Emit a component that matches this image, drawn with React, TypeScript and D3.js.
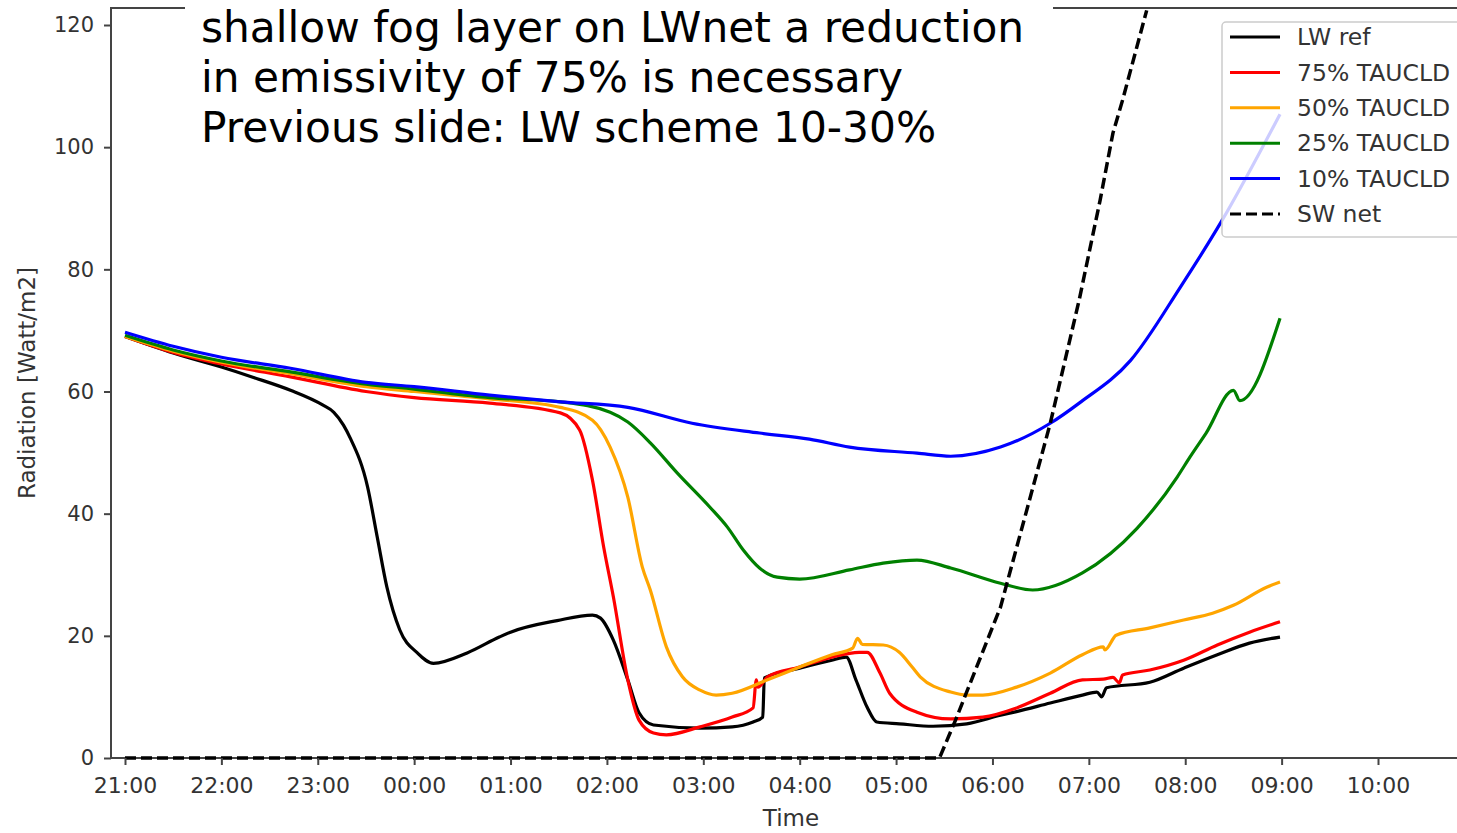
import React, { useRef, useEffect } from 'react';
import * as d3 from 'd3';

// values (Radiation, Watt/m2)
const lwRefTimes = ['21:00', '21:30', '22:00', '22:20', '22:43', '23:03', '23:10', '23:16', '23:20', '23:31', '23:37', '23:43', '23:51', '00:02', '00:12', '00:33', '00:53', '01:00', '01:29', '01:51', '01:56', '02:04', '02:13', '02:20', '02:29', '02:58', '03:18', '03:31', '03:37', '03:38', '04:00', '04:20', '04:29', '04:35', '04:42', '04:48', '05:02', '05:23', '05:44', '06:05', '06:15', '06:36', '06:56', '07:05', '07:08', '07:11', '07:38', '07:59', '08:20', '08:40', '08:59'];
const lwRefValues = [69.0, 66.3, 64.0, 62.3, 60.2, 57.8, 56.6, 54.5, 52.5, 44.4, 36.2, 28.0, 21.0, 17.2, 15.5, 17.2, 19.8, 20.6, 22.5, 23.4, 22.9, 19.3, 12.8, 7.4, 5.4, 4.9, 5.1, 5.9, 6.7, 13.1, 14.7, 16.0, 16.5, 12.8, 8.3, 5.9, 5.6, 5.2, 5.6, 7.0, 7.6, 9.0, 10.3, 10.8, 10.0, 11.5, 12.4, 14.7, 16.9, 18.8, 19.8];

const tau75Times = ['21:00', '21:30', '22:00', '22:43', '23:30', '00:00', '00:47', '01:31', '01:43', '01:51', '01:58', '02:04', '02:13', '02:20', '02:29', '02:37', '02:58', '03:18', '03:31', '03:33', '03:34', '03:40', '04:00', '04:20', '04:37', '04:42', '04:50', '04:56', '05:13', '05:34', '05:54', '06:15', '06:36', '06:56', '07:09', '07:15', '07:19', '07:21', '07:38', '07:59', '08:20', '08:40', '08:59'];
const tau75Values = [69.0, 66.4, 64.5, 62.4, 60.0, 59.0, 58.1, 56.5, 53.7, 45.5, 34.5, 26.4, 12.8, 6.2, 4.1, 3.8, 5.1, 6.7, 8.2, 12.8, 11.6, 13.3, 14.9, 16.5, 17.3, 17.3, 13.9, 10.6, 7.5, 6.4, 6.7, 8.2, 10.6, 12.8, 12.9, 13.2, 12.3, 13.6, 14.4, 16.0, 18.5, 20.6, 22.3];

const tau50Times = ['21:00', '21:30', '22:00', '22:43', '23:30', '00:00', '00:47', '01:31', '01:51', '02:02', '02:13', '02:22', '02:27', '02:37', '02:47', '02:58', '03:08', '03:18', '03:40', '04:00', '04:20', '04:33', '04:36', '04:39', '04:52', '05:02', '05:10', '05:15', '05:34', '05:44', '05:54', '06:15', '06:36', '06:56', '07:09', '07:10', '07:17', '07:38', '07:59', '08:17', '08:30', '08:51', '08:59'];
const tau50Values = [69.0, 66.6, 64.8, 62.9, 60.8, 60.0, 58.8, 57.4, 55.3, 50.9, 42.7, 31.3, 27.5, 18.2, 13.3, 11.1, 10.3, 10.6, 12.8, 14.9, 16.9, 18.0, 19.6, 18.6, 18.5, 17.3, 14.9, 13.3, 10.8, 10.3, 10.3, 11.6, 13.9, 16.9, 18.2, 17.7, 20.1, 21.3, 22.6, 23.7, 25.0, 28.0, 28.8];

const tau25Times = ['21:00', '21:30', '22:00', '22:43', '23:30', '00:00', '00:47', '01:31', '02:02', '02:13', '02:27', '02:44', '03:04', '03:15', '03:25', '03:35', '03:46', '04:00', '04:31', '04:52', '05:13', '05:34', '06:05', '06:25', '06:56', '07:30', '07:55', '08:03', '08:13', '08:30', '08:34', '08:59'];
const tau25Values = [69.2, 66.8, 65.0, 63.2, 61.2, 60.4, 59.0, 58.3, 56.6, 55.0, 51.6, 46.6, 41.1, 37.8, 34.0, 31.1, 29.6, 29.3, 30.8, 31.9, 32.4, 31.1, 28.6, 27.5, 30.3, 37.6, 46.0, 49.3, 53.2, 60.2, 58.5, 72.0];

const tau10Times = ['21:00', '21:30', '22:00', '22:43', '23:30', '00:00', '00:47', '01:31', '02:13', '02:53', '03:35', '04:06', '04:31', '05:13', '05:34', '06:05', '06:36', '06:54', '07:26', '07:57', '08:22', '08:59'];
const tau10Values = [69.7, 67.4, 65.6, 63.8, 61.5, 60.8, 59.4, 58.3, 57.4, 54.8, 53.2, 52.2, 50.9, 49.9, 49.4, 50.9, 54.8, 58.1, 65.1, 77.1, 87.6, 105.4];

const swNetTimes = ['21:00', '05:27', '05:37', '06:05', '06:36', '06:54', '07:07', '07:15', '07:21', '07:36'];
const swNetValues = [0, 0, 6.2, 24.7, 54.8, 75.0, 91.3, 102.3, 107.7, 122.4];

const seriesNames = ['LW ref', '75% TAUCLD', '50% TAUCLD', '25% TAUCLD', '10% TAUCLD', 'SW net'];
const seriesColors = ['#000000', '#ff0000', '#ffa500', '#008000', '#0000ff', '#000000'];

const yTicks = [0, 20, 40, 60, 80, 100, 120];
const noteLines = [
  'shallow fog layer on LWnet a reduction',
  'in emissivity of 75% is necessary',
  'Previous slide: LW scheme 10-30%',
];

// clock string -> Date, hours before 21 belong to the next day
const toDate = (s) => {
  const [h, m] = s.split(':').map(Number);
  return new Date(2020, 0, h >= 21 ? 1 : 2, h, m);
};

const App = () => {
  const chartRef = useRef();

  useEffect(() => {
    const W = 1457, H = 833;
    const left = 111, top = 8, bottom = 758, right = 1470;
    const spine = '#444';

    const svg = d3.select(chartRef.current)
      .attr('width', W)
      .attr('height', H)
      .html('');

    const x = d3.scaleTime()
      .domain([toDate('21:00'), toDate('10:00')])
      .range([125, 1378]);

    const y = d3.scaleLinear()
      .domain([0, 120])
      .range([bottom, 25]);

    svg.append('defs').append('clipPath').attr('id', 'plot-clip')
      .append('rect')
      .attr('x', left).attr('y', top)
      .attr('width', right - left).attr('height', bottom - top + 3);

    // spines first, the zero dashes of SW net sit on top of the bottom one
    svg.append('line').attr('x1', left).attr('x2', left).attr('y1', top).attr('y2', bottom)
      .attr('stroke', spine).attr('stroke-width', 2);
    svg.append('line').attr('x1', left - 1).attr('x2', W).attr('y1', bottom).attr('y2', bottom)
      .attr('stroke', spine).attr('stroke-width', 2);
    svg.append('line').attr('x1', left - 1).attr('x2', W).attr('y1', top).attr('y2', top)
      .attr('stroke', spine).attr('stroke-width', 2);

    const data = [
      [lwRefTimes, lwRefValues],
      [tau75Times, tau75Values],
      [tau50Times, tau50Values],
      [tau25Times, tau25Values],
      [tau10Times, tau10Values],
    ];

    const line = d3.line()
      .x(d => x(d.t))
      .y(d => y(d.v))
      .curve(d3.curveMonotoneX);

    const plot = svg.append('g').attr('clip-path', 'url(#plot-clip)');

    data.forEach(([times, values], i) => {
      const pts = times.map((t, j) => ({ t: toDate(t), v: values[j] }));
      plot.append('path')
        .datum(pts)
        .attr('d', line)
        .attr('fill', 'none')
        .attr('stroke', seriesColors[i])
        .attr('stroke-width', 3.2)
        .attr('stroke-linejoin', 'round');
    });

    const swPts = swNetTimes.map((t, j) => ({ t: toDate(t), v: swNetValues[j] }));
    plot.append('path')
      .datum(swPts)
      .attr('d', d3.line().x(d => x(d.t)).y(d => y(d.v)))
      .attr('fill', 'none')
      .attr('stroke', '#000')
      .attr('stroke-width', 3.5)
      .attr('stroke-dasharray', '11,5');

    // axes
    const xAxis = svg.append('g')
      .attr('transform', `translate(0,${bottom})`)
      .call(d3.axisBottom(x)
        .ticks(d3.timeHour.every(1))
        .tickFormat(d3.timeFormat('%H:%M'))
        .tickSize(7)
        .tickPadding(12));
    xAxis.select('.domain').remove();
    xAxis.selectAll('line').attr('stroke', spine).attr('stroke-width', 2);
    xAxis.selectAll('text')
      .attr('font-family', 'DejaVu Sans')
      .attr('font-size', 22)
      .attr('fill', '#333');

    const yAxis = svg.append('g')
      .attr('transform', `translate(${left},0)`)
      .call(d3.axisLeft(y).tickValues(yTicks).tickSize(7).tickPadding(10));
    yAxis.select('.domain').remove();
    yAxis.selectAll('line').attr('stroke', spine).attr('stroke-width', 2);
    yAxis.selectAll('text')
      .attr('font-family', 'DejaVu Sans')
      .attr('font-size', 21)
      .attr('fill', '#333');

    svg.append('text')
      .attr('x', 791).attr('y', 826)
      .attr('text-anchor', 'middle')
      .attr('font-family', 'DejaVu Sans')
      .attr('font-size', 23)
      .attr('fill', '#333')
      .text('Time');

    svg.append('text')
      .attr('transform', 'translate(35,383) rotate(-90)')
      .attr('text-anchor', 'middle')
      .attr('font-family', 'DejaVu Sans')
      .attr('font-size', 23)
      .attr('fill', '#333')
      .text('Radiation [Watt/m2]');

    // legend
    const legend = svg.append('g');
    legend.append('rect')
      .attr('x', 1222).attr('y', 22)
      .attr('width', 260).attr('height', 215)
      .attr('rx', 4)
      .attr('fill', 'white').attr('fill-opacity', 0.8)
      .attr('stroke', '#ccc').attr('stroke-width', 1.5);

    const rowY = d3.scaleLinear().domain([0, 5]).range([37, 214]);
    seriesNames.forEach((name, i) => {
      legend.append('line')
        .attr('x1', 1230).attr('x2', 1280)
        .attr('y1', rowY(i)).attr('y2', rowY(i))
        .attr('stroke', seriesColors[i])
        .attr('stroke-width', 3)
        .attr('stroke-dasharray', name === 'SW net' ? '11,5' : null);
      legend.append('text')
        .attr('x', 1297).attr('y', rowY(i))
        .attr('dy', '0.35em')
        .attr('font-family', 'DejaVu Sans')
        .attr('font-size', 23.5)
        .attr('fill', '#333')
        .text(name);
    });

    // slide note pasted over the top of the figure
    svg.append('rect')
      .attr('x', 185).attr('y', 0)
      .attr('width', 868).attr('height', 152)
      .attr('fill', 'white');
    noteLines.forEach((s, i) => {
      svg.append('text')
        .attr('x', 201).attr('y', 42 + i * 50)
        .attr('font-family', 'DejaVu Sans')
        .attr('font-size', 42.3)
        .attr('fill', '#000')
        .text(s);
    });
  }, []);

  return (
    <div style={{ position: 'absolute', left: 0, top: 0, width: 1457, height: 833, overflow: 'hidden', background: 'white' }}>
      <svg ref={chartRef}></svg>
    </div>
  );
};

export default App;
